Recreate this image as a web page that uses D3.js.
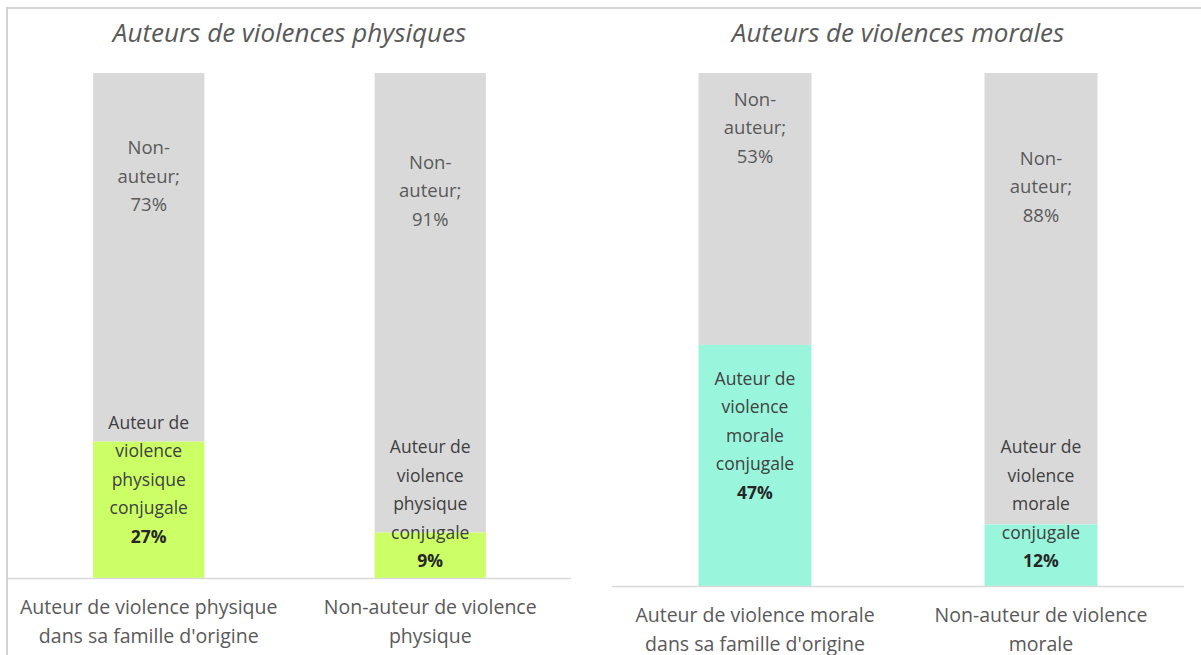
<!DOCTYPE html>
<html>
<head>
<meta charset="utf-8">
<script src="https://cdn.jsdelivr.net/npm/d3@7"></script>
<style>
  body { margin: 0; background: #fff; }
  svg { display: block; font-family: "Open Sans", Lato, sans-serif; }
</style>
</head>
<body>
<div id="chart"></div>
<script>
// data
const titles = ['Auteurs de violences physiques', 'Auteurs de violences morales'];

const physCategories = [
  ['Auteur de violence physique', "dans sa famille d'origine"],
  ['Non-auteur de violence', 'physique'],
];
const physAuteur = [27, 9];
const physNonAuteur = [73, 91];
const physAuteurLabel = ['Auteur de', 'violence', 'physique', 'conjugale'];

const moralCategories = [
  ['Auteur de violence morale', "dans sa famille d'origine"],
  ['Non-auteur de violence', 'morale'],
];
const moralAuteur = [47, 12];
const moralNonAuteur = [53, 88];
const moralAuteurLabel = ['Auteur de', 'violence', 'morale', 'conjugale'];

const nonAuteurLabel = ['Non-', 'auteur;'];

// layout
const width = 1201;
const height = 655;
const lineH = 28.5;
const labelShift = { non: [-81, -112], auteur: [-30, -51] };

const panels = [
  { title: titles[0], cats: physCategories, auteur: physAuteur, non: physNonAuteur,
    auteurLabel: physAuteurLabel, color: '#ccff66', x0: 8, x1: 571, top: 73, base: 578 },
  { title: titles[1], cats: moralCategories, auteur: moralAuteur, non: moralNonAuteur,
    auteurLabel: moralAuteurLabel, color: '#99f6dc', x0: 612, x1: 1184, top: 73, base: 586 },
];

const svg = d3.select('#chart')
  .append('svg')
  .attr('width', width)
  .attr('height', height);

// outer frame (left + top only, picture is cropped)
svg.append('path')
  .attr('d', `M7,${height} V8 H${width}`)
  .attr('fill', 'none')
  .attr('stroke', '#d4d4d4')
  .attr('stroke-width', 2);

panels.forEach(p => {
  const g = svg.append('g');

  const x = d3.scaleBand()
    .domain(d3.range(p.cats.length))
    .range([p.x0, p.x1])
    .paddingInner(0.605)
    .paddingOuter(0.3025);

  const y = d3.scaleLinear()
    .domain([0, 100])
    .range([p.base, p.top]);

  g.append('text')
    .attr('x', (p.x0 + p.x1) / 2)
    .attr('y', 42)
    .attr('text-anchor', 'middle')
    .attr('font-size', 26)
    .attr('font-style', 'italic')
    .attr('fill', '#595959')
    .text(p.title);

  const rows = p.cats.map((c, i) => ({ i, auteur: p.auteur[i], non: p.non[i] }));

  // grey "non-auteur" segment on top
  g.selectAll('.non')
    .data(rows)
    .enter()
    .append('rect')
    .attr('class', 'non')
    .attr('x', d => x(d.i))
    .attr('width', x.bandwidth())
    .attr('y', d => y(d.auteur + d.non))
    .attr('height', d => y(d.auteur) - y(d.auteur + d.non))
    .attr('fill', '#d9d9d9');

  g.selectAll('.auteur')
    .data(rows)
    .enter()
    .append('rect')
    .attr('class', 'auteur')
    .attr('x', d => x(d.i))
    .attr('width', x.bandwidth())
    .attr('y', d => y(d.auteur))
    .attr('height', d => y(0) - y(d.auteur))
    .attr('fill', p.color);

  // baseline
  g.append('line')
    .attr('x1', p.x0)
    .attr('x2', p.x1)
    .attr('y1', p.base + 0.5)
    .attr('y2', p.base + 0.5)
    .attr('stroke', '#d9d9d9')
    .attr('stroke-width', 1.5);

  // labels
  rows.forEach(d => {
    const cx = x(d.i) + x.bandwidth() / 2;

    const nonLines = nonAuteurLabel.concat([`${d.non}%`]);
    const nonMid = (y(d.auteur + d.non) + y(d.auteur)) / 2 + labelShift.non[d.i];
    const t1 = g.append('text')
      .attr('text-anchor', 'middle')
      .attr('font-size', 18.5)
      .attr('fill', '#595959');
    nonLines.forEach((s, k) => {
      t1.append('tspan')
        .attr('x', cx)
        .attr('y', nonMid + (k - 1) * lineH)
        .attr('dy', '0.35em')
        .text(s);
    });

    const aLines = p.auteurLabel.concat([`${d.auteur}%`]);
    const aMid = (y(d.auteur) + y(0)) / 2 + labelShift.auteur[d.i];
    const t2 = g.append('text')
      .attr('text-anchor', 'middle')
      .attr('font-size', 17.5)
      .attr('fill', '#404040');
    aLines.forEach((s, k) => {
      t2.append('tspan')
        .attr('x', cx)
        .attr('y', aMid + (k - 2) * lineH)
        .attr('dy', '0.35em')
        .attr('font-weight', k === aLines.length - 1 ? 'bold' : null)
        .attr('fill', k === aLines.length - 1 ? '#262626' : null)
        .text(s);
    });

    // category axis label
    const t3 = g.append('text')
      .attr('text-anchor', 'middle')
      .attr('font-size', 19.5)
      .attr('fill', '#595959');
    p.cats[d.i].forEach((s, k) => {
      t3.append('tspan')
        .attr('x', cx)
        .attr('y', p.base + 29 + k * 29)
        .attr('dy', '0.35em')
        .text(s);
    });
  });
});
</script>
</body>
</html>
